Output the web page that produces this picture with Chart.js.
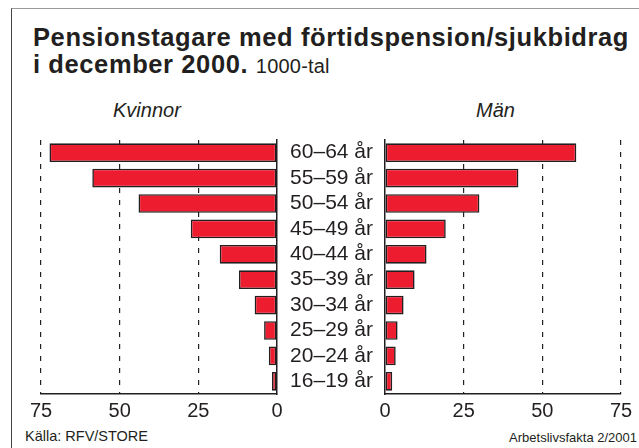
<!DOCTYPE html>
<html>
<head>
<meta charset="utf-8">
<script src="https://cdn.jsdelivr.net/npm/chart.js@4.4.1/dist/chart.umd.min.js"></script>
<style>
  body { margin: 0; width: 639px; height: 448px; position: relative; overflow: hidden; background: #fff;
         font-family: "Liberation Sans", Arial, Helvetica, sans-serif; color: #231f20; }
  .frame { position: absolute; left: 11px; top: 8px; width: 640px; height: 450px;
           border-left: 1px solid #444; border-top: 1px solid #999; }
  .title { position: absolute; left: 33px; top: 24px; font-size: 25.5px; font-weight: bold; line-height: 27px;
           letter-spacing: 0.6px; white-space: nowrap; }
  .title span { font-weight: normal; font-size: 20px; letter-spacing: 0.2px; }
  .side { position: absolute; top: 99px; font-size: 20px; font-style: italic; }
  .note { position: absolute; font-size: 14.5px; }
  canvas { position: absolute; top: 0; }
</style>
</head>
<body>
<div class="frame"></div>
<div class="title">Pensionstagare med förtidspension/sjukbidrag<br>i december 2000. <span>1000-tal</span></div>
<div class="side" style="left:113px">Kvinnor</div>
<div class="side" style="left:476px">Män</div>
<div class="note" style="left:25px; top:428px">Källa: RFV/STORE</div>
<div class="note" style="right:2px; top:430px; font-size:13px">Arbetslivsfakta 2/2001</div>

<div style="position:absolute;left:0;top:0;width:300px;height:448px"><canvas id="leftChart"></canvas></div>
<div style="position:absolute;left:270px;top:0;width:369px;height:448px"><canvas id="rightChart"></canvas></div>

<script>
// Age groups, top to bottom
const ageGroups = ['60–64 år', '55–59 år', '50–54 år', '45–49 år', '40–44 år',
                   '35–39 år', '30–34 år', '25–29 år', '20–24 år', '16–19 år'];
// Thousands of pensioners
const kvinnor = [72.3, 58.7, 44.0, 27.4, 18.2, 12.1, 7.1, 4.1, 2.6, 1.6];
const man = [60.8, 42.4, 30.0, 19.3, 13.2, 9.4, 5.9, 4.0, 3.4, 2.3];
const axisTicks = [0, 25, 50, 75];

const ink = '#231f20';
const barRed = '#ed1c2e';

function barDataset(values) {
    return {
        data: values,
        backgroundColor: barRed,
        borderColor: ink,
        borderWidth: 1.6,
        borderSkipped: false,
        barPercentage: 0.735,
        categoryPercentage: 1
    };
}

// x axis shared by both halves
function valueAxis(reverse) {
    return {
        min: 0,
        max: 75,
        reverse: reverse,
        afterBuildTicks: scale => { scale.ticks = axisTicks.map(v => ({ value: v })); },
        afterFit: scale => { scale.height = 54; },
        ticks: {
            color: ink,
            font: { family: 'Liberation Sans', size: 20 },
            padding: 5,
            maxRotation: 0,
            autoSkip: false
        },
        grid: {
            drawTicks: false,
            lineWidth: 1.2,
            color: ctx => ctx.tick && ctx.tick.value === 0 ? 'rgba(0,0,0,0)' : ink
        },
        border: { display: true, color: ink, width: 1.5, dash: [5, 7] }
    };
}

const common = {
    indexAxis: 'y',
    responsive: true,
    maintainAspectRatio: false,
    animation: false,
    plugins: { legend: { display: false }, tooltip: { enabled: false } }
};

new Chart(document.getElementById('leftChart'), {
    type: 'bar',
    data: { labels: ageGroups, datasets: [barDataset(kvinnor)] },
    options: {
        ...common,
        layout: { padding: { left: 41, right: 23, top: 140, bottom: 0 } },
        scales: {
            x: valueAxis(true),
            y: {
                position: 'right',
                afterFit: scale => { scale.width = 0; },
                ticks: { display: false },
                grid: { display: false, drawTicks: false },
                border: { display: true, color: ink, width: 1.5 }
            }
        }
    }
});

new Chart(document.getElementById('rightChart'), {
    type: 'bar',
    data: { labels: ageGroups, datasets: [barDataset(man)] },
    options: {
        ...common,
        layout: { padding: { left: 0, right: 18, top: 140, bottom: 0 } },
        scales: {
            x: valueAxis(false),
            y: {
                position: 'left',
                afterFit: scale => { scale.width = 115; },
                ticks: {
                    color: ink,
                    font: { family: 'Liberation Sans', size: 21 },
                    crossAlign: 'center',
                    padding: 12,
                    autoSkip: false
                },
                grid: { display: false, drawTicks: false },
                border: { display: true, color: ink, width: 1.5 }
            }
        }
    }
});
</script>
</body>
</html>
